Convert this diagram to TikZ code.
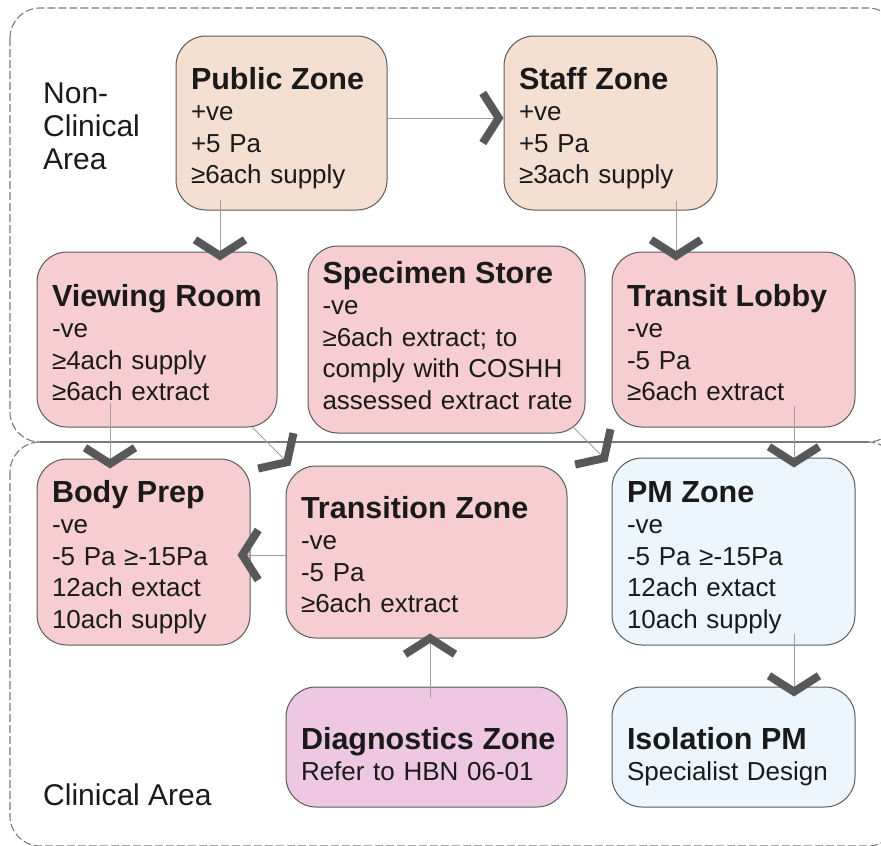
\documentclass[tikz,border=0pt]{standalone}
\usepackage{fontspec}
\setmainfont{Liberation Sans}
\usetikzlibrary{arrows.meta,calc}

\definecolor{peach}{HTML}{F4DFD0}
\definecolor{rose}{HTML}{F6CDD0}
\definecolor{ice}{HTML}{EEF6FD}
\definecolor{orchid}{HTML}{EEC8E2}
\definecolor{edgegray}{HTML}{5A5A5A}
\definecolor{chev}{HTML}{58585A}
\definecolor{wire}{HTML}{A0A0A0}
\definecolor{zoneline}{HTML}{7A7A7A}
\definecolor{ink}{HTML}{1A1A1A}

% bold heading line inside a zone box
\newcommand\zonetitle[1]{\mbox{\fontsize{30.5}{31.5}\selectfont\bfseries #1}\\}

\tikzset{
  zone/.style={draw=edgegray, line width=1pt, rounded corners=30pt,
    inner sep=0pt, align=left, text=ink,
    font=\fontsize{26}{31.5}\selectfont},
  % height above the first baseline / depth below it: places the text block
  txtpos/.style 2 args={text height=#1pt, text depth=#2pt},
  area/.style={draw=zoneline, line width=1.1pt, dash pattern=on 8pt off 3pt,
    rounded corners=30pt},
  arealabel/.style={inner sep=0pt, align=left, text=ink,
    font=\fontsize{30}{33}\selectfont},
  link/.style={draw=wire, line width=0.9pt,
    -{Straight Barb[length=16pt,width=50pt,line width=8pt,color=chev]}},
}

\begin{document}
\begin{tikzpicture}[x=1pt,y=-1pt]
\useasboundingbox (0,0) rectangle (881,846);
\begin{scope}
  \clip (0,0) rectangle (881,846);
  % the two area outlines
  \draw[area] (10,8) rectangle (898,442);
  \draw[area] (10,442) rectangle (898,846);
  \draw[zoneline, line width=1.1pt] (40,442) -- (868,442);
\end{scope}

\node[arealabel, anchor=north west] (nonclin) at (43,83) {Non-\\Clinical\\Area};
\node[arealabel, anchor=base west] (clin) at (43,805) {Clinical Area};

% non-clinical zones
\node[zone, fill=peach, minimum width=211pt, minimum height=174pt, text width=181pt, txtpos={24}{92}]
  (pub) at (281.5,123) {\zonetitle{Public Zone}+ve\\+5 Pa\\≥6ach supply};
\node[zone, fill=peach, minimum width=213pt, minimum height=174pt, text width=183pt, txtpos={24}{92}]
  (staff) at (610.5,123) {\zonetitle{Staff Zone}+ve\\+5 Pa\\≥3ach supply};
\node[zone, fill=rose, minimum width=240pt, minimum height=175pt, text width=210pt, txtpos={24.5}{91.5}]
  (view) at (157,339.5) {\zonetitle{Viewing Room}-ve\\≥4ach supply\\≥6ach extract};
\node[zone, fill=rose, minimum width=277pt, minimum height=187pt, text width=248pt, txtpos={1.5}{114.5}]
  (spec) at (446.5,339.5) {\zonetitle{Specimen Store}-ve\\≥6ach extract; to\\comply with COSHH\\\mbox{assessed extract rate}};
\node[zone, fill=rose, minimum width=243pt, minimum height=175pt, text width=213pt, txtpos={24.5}{91.5}]
  (trlob) at (733.5,339.5) {\zonetitle{Transit Lobby}-ve\\-5 Pa\\≥6ach extract};

% clinical zones
\node[zone, fill=rose, minimum width=213pt, minimum height=186pt, text width=183pt, txtpos={8}{108}]
  (body) at (143.5,552) {\zonetitle{Body Prep}-ve\\-5 Pa ≥-15Pa\\12ach extact\\10ach supply};
\node[zone, fill=rose, minimum width=281pt, minimum height=172pt, text width=251pt, txtpos={24}{92}]
  (trans) at (426.5,552) {\zonetitle{Transition Zone}-ve\\-5 Pa\\≥6ach extract};
\node[zone, fill=ice, minimum width=243pt, minimum height=187pt, text width=213pt, txtpos={8.5}{107.5}]
  (pm) at (733.5,551.5) {\zonetitle{PM Zone}-ve\\-5 Pa ≥-15Pa\\12ach extact\\10ach supply};
\node[zone, fill=orchid, minimum width=281pt, minimum height=120pt, text width=251pt, txtpos={60}{56}]
  (diag) at (426.5,747) {\zonetitle{Diagnostics Zone}Refer to HBN 06-01};
\node[zone, fill=ice, minimum width=243pt, minimum height=120pt, text width=213pt, txtpos={60}{56}]
  (iso) at (733.5,747) {\zonetitle{Isolation PM}Specialist Design};

% air-flow connectors
\draw[link] ($(pub.east)+(0,-5)$) -- ($(staff.west)+(0,-5)$);
\draw[link, shorten >=-9pt] ($(pub.south)+(-61.5,-11)$) -- ($(view.north)+(63,0)$);
\draw[link, shorten >=-9pt] ($(staff.south)+(65.5,-10)$) -- ($(trlob.north)+(-57.5,0)$);
\draw[link, shorten >=-10pt] ($(view.south)+(-47,-25)$) -- ($(body.north)+(-33.5,0)$);
\draw[link] ($(view.south east)+(-25,0)$) -- ($(trans.north west)+(5,0)$);
\draw[link] ($(spec.south east)+(-12,-6)$) -- ($(pm.north west)+(-4,4)$);
\draw[link, shorten >=-10pt] ($(trlob.south)+(60.5,-22)$) -- ($(pm.north)+(60.5,0)$);
\draw[link, shorten >=-13pt] ($(trans.west)+(0,3)$) -- ($(body.east)+(0,3)$);
\draw[link, shorten >=-5pt] ($(diag.north)+(3.5,11)$) -- ($(trans.south)+(3.5,0)$);
\draw[link, shorten >=-10pt] ($(pm.south)+(60.5,-12)$) -- ($(iso.north)+(60.5,0)$);
\end{tikzpicture}
\end{document}
